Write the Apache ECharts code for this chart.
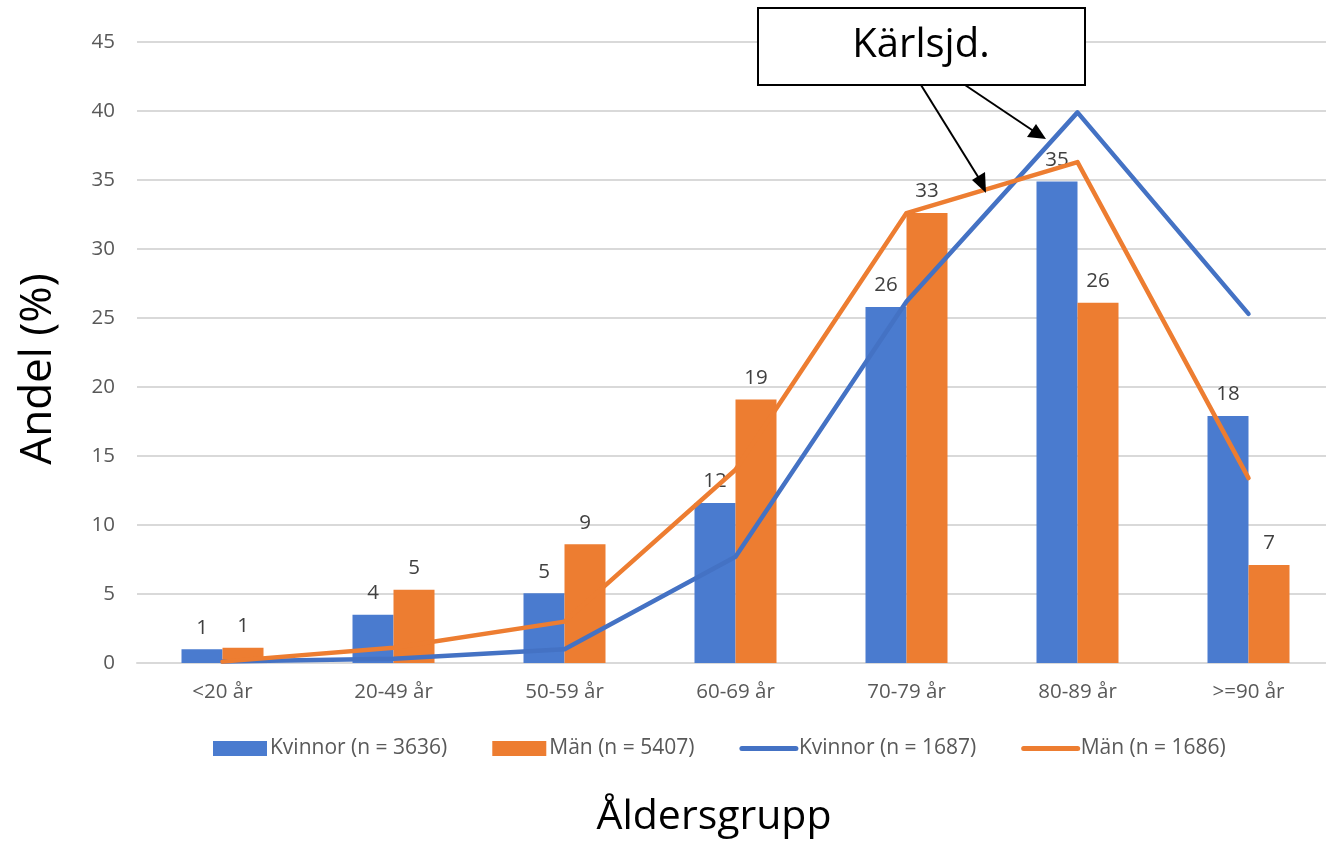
<!DOCTYPE html>
<html>
<head>
<meta charset="utf-8">
<script src="https://cdn.jsdelivr.net/npm/echarts@6/dist/echarts.min.js"></script>
<style>
html,body{margin:0;padding:0;background:#fff;overflow:hidden;}
#chart{width:1340px;height:842px;}
</style>
</head>
<body>
<div id="chart"></div>
<script>
const categories = ['<20 år', '20-49 år', '50-59 år', '60-69 år', '70-79 år', '80-89 år', '>=90 år'];
const barKvinnor = [1.0, 3.5, 5.05, 11.6, 25.8, 34.9, 17.9];
const barMan = [1.1, 5.3, 8.6, 19.1, 32.6, 26.1, 7.1];
const lineKvinnor = [0.1, 0.3, 1.0, 7.7, 26.2, 39.9, 25.3];
const lineMan = [0.1, 1.1, 3.0, 14.0, 32.6, 36.3, 13.4];
const seriesNames = ['Kvinnor (n = 3636)', 'Män (n = 5407)', 'Kvinnor (n = 1687)', 'Män (n = 1686)'];
const yTicks = [0, 5, 10, 15, 20, 25, 30, 35, 40, 45];

const FONT = '"Open Sans", "Noto Sans", sans-serif';
const FS = 20.5;
const BLUE_BAR = '#4a7bcf';
const ORANGE_BAR = '#ed7d31';
const BLUE_LINE = '#4472c4';
const ORANGE_LINE = '#ed7d31';

const chart = echarts.init(document.getElementById('chart'), null, {renderer: 'canvas'});

const barLabel = {
  show: true,
  position: 'top',
  distance: 11,
  fontSize: FS,
  fontFamily: FONT,
  color: '#404040',
  formatter: p => String(Math.round(p.value))
};

const hiddenSym = {color: 'rgba(0,0,0,0)', borderWidth: 0, opacity: 0};

const option = {
  animation: false,
  backgroundColor: '#fff',
  textStyle: {fontFamily: FONT},
  grid: {left: 137, top: 42, width: 1197, height: 621, containLabel: false},
  legend: {
    top: 733,
    left: 208,
    itemWidth: 54,
    itemHeight: 15,
    itemGap: 45,
    textStyle: {fontSize: 21, color: '#595959', fontFamily: FONT, padding: [0, 0, 0, -2]},
    data: [
      {name: seriesNames[0], icon: 'rect'},
      {name: seriesNames[1], icon: 'rect'},
      {name: seriesNames[2], itemStyle: hiddenSym, lineStyle: {width: 5, cap: 'round', color: BLUE_LINE}},
      {name: seriesNames[3], itemStyle: hiddenSym, lineStyle: {width: 5, cap: 'round', color: ORANGE_LINE}}
    ]
  },
  xAxis: {
    type: 'category',
    data: categories,
    axisLine: {lineStyle: {color: '#d9d9d9', width: 2}},
    axisTick: {show: false},
    axisLabel: {fontSize: FS, color: '#595959', fontFamily: FONT, margin: 19}
  },
  yAxis: {
    type: 'value',
    min: 0,
    max: 45,
    interval: 5,
    axisLine: {show: false},
    axisTick: {show: false},
    axisLabel: {fontSize: FS, color: '#595959', fontFamily: FONT, margin: 22,
      formatter: v => yTicks.includes(v) ? String(v) : ''},
    splitLine: {lineStyle: {color: '#d9d9d9', width: 2}}
  },
  series: [
    {name: seriesNames[0], type: 'bar', data: barKvinnor, barWidth: 41, barGap: '0%',
      itemStyle: {color: BLUE_BAR}, label: barLabel, z: 2},
    {name: seriesNames[1], type: 'bar', data: barMan, barWidth: 41, barGap: '0%',
      itemStyle: {color: ORANGE_BAR}, label: barLabel, z: 2},
    {name: seriesNames[2], type: 'line', data: lineKvinnor, symbol: 'none', showSymbol: false,
      itemStyle: {color: BLUE_LINE},
      lineStyle: {color: BLUE_LINE, width: 4.5, cap: 'round', join: 'round'}, z: 3},
    {name: seriesNames[3], type: 'line', data: lineMan, symbol: 'none', showSymbol: false,
      itemStyle: {color: ORANGE_LINE},
      lineStyle: {color: ORANGE_LINE, width: 4.5, cap: 'round', join: 'round'}, z: 4}
  ],
  graphic: [
    {type: 'text', x: 38, y: 369, rotation: Math.PI / 2,
      style: {text: 'Andel (%)', fontSize: 44, fontFamily: FONT, fill: '#000',
        align: 'center', verticalAlign: 'middle'}},
    {type: 'text', style: {text: 'Åldersgrupp', fontSize: 41, fontFamily: FONT, fill: '#000',
      x: 714, y: 817, align: 'center', verticalAlign: 'middle'}},
    {type: 'rect', shape: {x: 758, y: 8, width: 327, height: 77},
      style: {fill: '#fff', stroke: '#000', lineWidth: 2}, z: 100},
    {type: 'text', style: {text: 'Kärlsjd.', fontSize: 40, fontFamily: FONT, fill: '#000',
      x: 921, y: 46, align: 'center', verticalAlign: 'middle'}, z: 101},
    {type: 'line', shape: {x1: 921, y1: 85, x2: 980, y2: 180},
      style: {stroke: '#000', lineWidth: 2}, z: 100},
    {type: 'polygon', shape: {points: [[986, 193], [972, 180], [985, 172]]},
      style: {fill: '#000'}, z: 100},
    {type: 'line', shape: {x1: 965, y1: 85, x2: 1035, y2: 132},
      style: {stroke: '#000', lineWidth: 2}, z: 100},
    {type: 'polygon', shape: {points: [[1046, 139], [1027, 137], [1036, 124]]},
      style: {fill: '#000'}, z: 100}
  ]
};

chart.setOption(option);
</script>
</body>
</html>
